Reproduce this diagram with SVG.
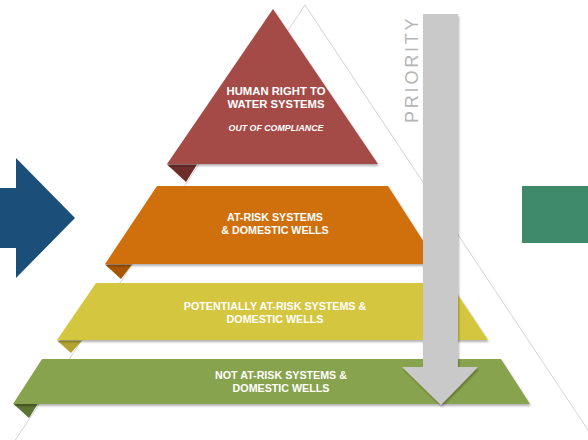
<svg xmlns="http://www.w3.org/2000/svg" width="588" height="440" viewBox="0 0 588 440">
<defs>
<style>
.lbl{font-family:"Liberation Sans",Arial,sans-serif;font-weight:bold;fill:#ffffff;text-anchor:middle;font-size:10.7px}
.pri{font-family:"Liberation Sans",Arial,sans-serif;fill:#b5b5b5;font-size:18px;letter-spacing:2.8px}
</style>
<filter id="sh" x="-10%" y="-10%" width="120%" height="130%">
<feDropShadow dx="1" dy="2" stdDeviation="1.2" flood-color="#000" flood-opacity="0.3"/>
</filter>
</defs>
<rect width="588" height="440" fill="#ffffff"/>
<polyline points="14,442 305,5 596,442" fill="none" stroke="#c8c8c8" stroke-width="0.8"/>
<g id="blue-arrow">
<polygon points="0,188 16,188 16,158 75,218 16,278 16,248 0,248" fill="#1b4f7a"/>
</g>
<g id="green-box">
<rect x="522" y="186" width="66" height="57" fill="#3e8a6a"/>
</g>
<g id="tier1">
<polygon points="167,164.5 197,164.5 186,182" fill="#6f2d2a"/>
<polygon points="273,9 378,164 167,164" fill="#a54b46" filter="url(#sh)"/>
<text class="lbl" x="276" y="95" style="font-size:11.3px">HUMAN RIGHT TO</text>
<text class="lbl" x="276" y="108" style="font-size:11.3px">WATER SYSTEMS</text>
<text class="lbl" x="276" y="131" style="font-size:8.8px;font-style:italic">OUT OF COMPLIANCE</text>
</g>
<g id="tier2">
<polygon points="105,264.5 132,264.5 121,279" fill="#a85600"/>
<polygon points="157,186 388,186 438,264 105,264" fill="#d07008" filter="url(#sh)"/>
<text class="lbl" x="275" y="221">AT-RISK SYSTEMS</text>
<text class="lbl" x="275" y="233.5">&amp; DOMESTIC WELLS</text>
</g>
<g id="tier3">
<polygon points="57,340.5 82,340.5 71,353" fill="#b2a333"/>
<polygon points="96,283 450,283 488,340 57,340" fill="#d5c640" filter="url(#sh)"/>
<text class="lbl" x="275" y="310">POTENTIALLY AT-RISK SYSTEMS &amp;</text>
<text class="lbl" x="275" y="323">DOMESTIC WELLS</text>
</g>
<g id="tier4">
<polygon points="13,403.5 38,403.5 29,418" fill="#5d7433"/>
<polygon points="42,359 501,359 530,404 13,404" fill="#88a34d" filter="url(#sh)"/>
<text class="lbl" x="281" y="379">NOT AT-RISK SYSTEMS &amp;</text>
<text class="lbl" x="281" y="392">DOMESTIC WELLS</text>
</g>
<g id="priority-arrow">
<polygon points="423,14 458,14 458,367 478,367 441,405 402,367 423,367" fill="#c9c9c9" filter="url(#sh)"/>
<text class="pri" transform="translate(418,123) rotate(-90)">PRIORITY</text>
</g>
</svg>
